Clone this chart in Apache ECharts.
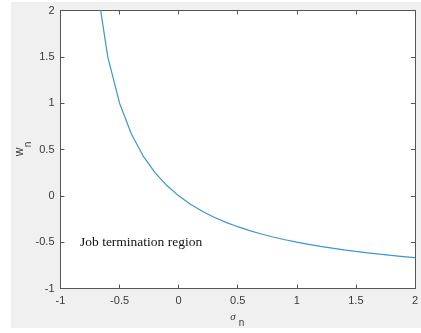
<!DOCTYPE html>
<html>
<head>
<meta charset="utf-8">
<script src="https://cdn.jsdelivr.net/npm/echarts@6/dist/echarts.min.js"></script>
<style>
html,body{margin:0;padding:0;background:#fff;}
#c{width:421px;height:333px;}
</style>
</head>
<body>
<div id="c"></div>
<script>
// sigma_n values (x) and w_n values (y)
var sigma = [-0.7,-0.6,-0.5,-0.4,-0.3,-0.2,-0.1,0,0.1,0.2,0.3,0.4,0.5,0.6,0.7,0.8,0.9,1.0,1.1,1.2,1.3,1.4,1.5,1.6,1.7,1.8,1.9,2.0];
var w = [2.333,1.5,1.0,0.667,0.429,0.25,0.111,0,-0.091,-0.167,-0.231,-0.286,-0.333,-0.375,-0.412,-0.444,-0.474,-0.5,-0.524,-0.545,-0.565,-0.583,-0.6,-0.615,-0.63,-0.643,-0.655,-0.667];
var xTicks = [-1,-0.5,0,0.5,1,1.5,2];
var yTicks = [-1,-0.5,0,0.5,1,1.5,2];
var annotation = 'Job termination region';

var pts = sigma.map(function(s,i){return [s,w[i]];});
var chart = echarts.init(document.getElementById('c'), null, {renderer:'canvas'});
var axisCol = '#555';
var lblStyle = {color:'#3a3a3a', fontFamily:'Liberation Sans, Arial, sans-serif', fontSize:11};
function fmt(v){return String(v);}
function mkX(pos, show){
  return {type:'value', position:pos, min:xTicks[0], max:xTicks[xTicks.length-1], interval:0.5,
    axisLine:{show:true, onZero:false, lineStyle:{color:axisCol, width:1}},
    axisTick:{show:true, inside:true, length:4, lineStyle:{color:axisCol}},
    axisLabel:Object.assign({show:show, margin:7, formatter:fmt}, lblStyle),
    splitLine:{show:false}};
}
function mkY(pos, show){
  return {type:'value', position:pos, min:yTicks[0], max:yTicks[yTicks.length-1], interval:0.5,
    axisLine:{show:true, onZero:false, lineStyle:{color:axisCol, width:1}},
    axisTick:{show:true, inside:true, length:4, lineStyle:{color:axisCol}},
    axisLabel:Object.assign({show:show, margin:6, formatter:fmt}, lblStyle),
    splitLine:{show:false}};
}
chart.setOption({
  animation:false,
  backgroundColor:'#fff',
  grid:{left:60.5, right:6, top:10.5, bottom:44.5, show:true, backgroundColor:'#fff', borderWidth:0},
  xAxis:[mkX('bottom',true), mkX('top',false)],
  yAxis:[mkY('left',true), mkY('right',false)],
  graphic:[
    {type:'rect', z:-10, silent:true, shape:{x:11, y:2, width:410, height:326}, style:{fill:'#f0f0f0'}},
    {type:'text', z:10, x:80, y:242, style:{text:annotation, font:'13.5px "Liberation Serif", serif', fill:'#111', textVerticalAlign:'middle'}},
    {type:'text', z:10, x:20, y:152, rotation:Math.PI/2, style:{text:'w', font:'12px "Liberation Sans", Arial, sans-serif', fill:'#3a3a3a', textAlign:'center', textVerticalAlign:'middle'}},
    {type:'text', z:10, x:28, y:144.5, rotation:Math.PI/2, style:{text:'n', font:'10px "Liberation Sans", Arial, sans-serif', fill:'#3a3a3a', textAlign:'center', textVerticalAlign:'middle'}},
    {type:'text', z:10, x:233, y:317, style:{text:'σ', font:'italic 11px "Liberation Serif", serif', fill:'#3a3a3a', textAlign:'center', textVerticalAlign:'middle'}},
    {type:'text', z:10, x:241.5, y:323, style:{text:'n', font:'10px "Liberation Sans", Arial, sans-serif', fill:'#3a3a3a', textAlign:'center', textVerticalAlign:'middle'}}
  ],
  series:[{type:'line', xAxisIndex:0, yAxisIndex:0, data:pts, showSymbol:false, symbol:'none', clip:true,
    lineStyle:{color:'#3d95d3', width:1.2}}]
});
</script>
</body>
</html>
